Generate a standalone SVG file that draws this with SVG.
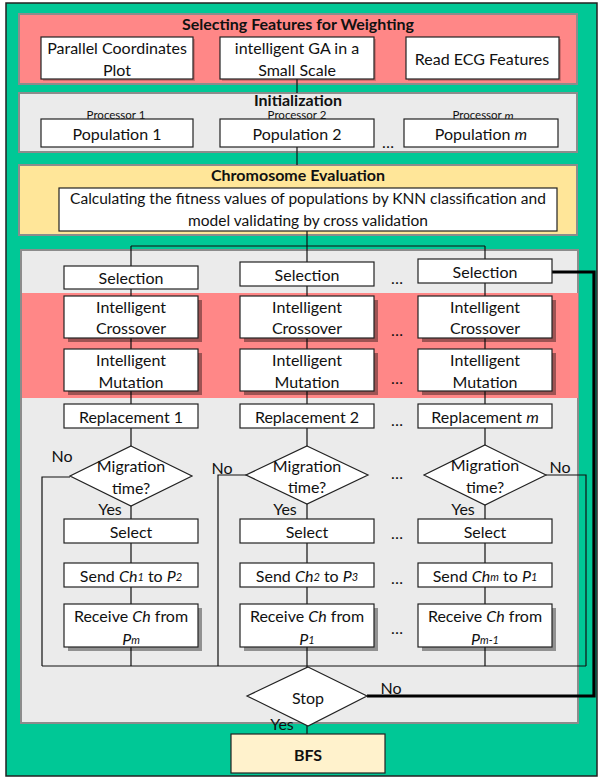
<svg xmlns="http://www.w3.org/2000/svg" width="599" height="778" viewBox="0 0 599 778">
<style>
text{font-family:Lato,"Liberation Sans",sans-serif;fill:#111;text-anchor:middle;dominant-baseline:central}
.t{font-size:16px}
.c{font-size:15.5px}
.h{font-size:16px;font-weight:bold}
.s{font-size:11.5px}
.i{font-style:italic}
.sub{font-style:italic;font-size:11px}
.box{fill:#fff;stroke:#222;stroke-width:1.2}
.sh{fill:#000;opacity:.38}
.shl{fill:#000;opacity:.18}
.dia{fill:#fff;stroke:#222;stroke-width:1.2}
.ln{fill:none;stroke:#111;stroke-width:1.2}
.thick{fill:none;stroke:#000;stroke-width:3.2}
.panel{stroke:#8c8c8c;stroke-width:2}
</style>
<rect id="background" x="6" y="3" width="591" height="773" fill="#00C896" stroke="#222" stroke-width="1.5"/>
<g id="panels">
<rect x="19" y="14" width="558" height="70" fill="#FF8787" class="panel"/>
<rect x="19" y="93" width="558" height="59" fill="#EBEBEB" class="panel"/>
<rect x="19" y="165" width="558" height="70" fill="#FFE699" class="panel"/>
<rect x="21" y="250" width="557" height="473" fill="#EBEBEB" class="panel"/>
<rect x="22" y="293" width="556" height="105" fill="#FF8787"/>
</g>
<g id="connectors">
<path class="ln" d="M297,79V93M297,147V165"/>
<path class="ln" d="M307,231V262M131,246H485M131,246V666M307,246V666M485,246V666"/>
<path class="ln" d="M70,477H42V666M247,475H218V666M546,475H586V666M42,666H586"/>
<path class="ln" d="M307,666V734"/>
<path class="thick" d="M552,272H594V696H367"/>
</g>
<g id="titles">
<text class="h" x="298" y="23">Selecting Features for Weighting</text>
<text class="h" x="298" y="99">Initialization</text>
<text class="h" x="298" y="174">Chromosome Evaluation</text>
</g>
<g id="parallel-coordinates">
<rect class="shl" x="43" y="39" width="152" height="42"/>
<rect class="box" x="41" y="37" width="152" height="42"/>
<text class="t" x="117" y="47">Parallel Coordinates</text><text class="t" x="117" y="69">Plot</text>
</g>
<g id="intelligent-ga">
<rect class="shl" x="222" y="39" width="154" height="42"/>
<rect class="box" x="220" y="37" width="154" height="42"/>
<text class="t" x="297" y="47">intelligent GA in a</text><text class="t" x="297" y="69">Small Scale</text>
</g>
<g id="read-ecg">
<rect class="shl" x="408" y="39" width="153" height="42"/>
<rect class="box" x="406" y="37" width="153" height="42"/>
<text class="t" x="482" y="58">Read ECG Features</text>
</g>
<g id="population-1">
<text class="s" x="116" y="114.5">Processor 1</text>
<rect class="box" x="41" y="119" width="152" height="28"/>
<text class="t" x="117" y="133">Population 1</text>
</g>
<g id="population-2">
<text class="s" x="297" y="114.5">Processor 2</text>
<rect class="box" x="220" y="119" width="154" height="28"/>
<text class="t" x="297" y="133">Population 2</text>
</g>
<text class="t" x="388" y="141">…</text>
<g id="population-m">
<text class="s" x="483" y="114.5">Processor <tspan class="i">m</tspan></text>
<rect class="box" x="404" y="119" width="154" height="28"/>
<text class="t" x="481" y="133">Population <tspan class="i">m</tspan></text>
</g>
<g id="fitness">
<rect class="box" x="59" y="188" width="498" height="43"/>
<text class="c" x="308" y="198">Calculating the fitness values of populations by KNN classification and</text>
<text class="c" x="308" y="220">model validating by cross validation</text>
</g>
<g id="selection-1"><rect class="box" x="64" y="266" width="134" height="23"/><text class="t" x="131" y="277.5">Selection</text></g>
<g id="selection-2"><rect class="box" x="240" y="262" width="134" height="24"/><text class="t" x="307" y="274">Selection</text></g>
<g id="selection-m"><rect class="box" x="418" y="259" width="134" height="24"/><text class="t" x="485" y="271">Selection</text></g>
<text class="t" x="397" y="277">…</text>
<g id="crossover-1"><rect class="sh" x="68" y="300" width="134" height="42"/><rect class="box" x="64" y="296" width="134" height="42"/><text class="t" x="131" y="306">Intelligent</text><text class="t" x="131" y="327">Crossover</text></g>
<g id="crossover-2"><rect class="sh" x="244" y="300" width="134" height="42"/><rect class="box" x="240" y="296" width="134" height="42"/><text class="t" x="307" y="306">Intelligent</text><text class="t" x="307" y="327">Crossover</text></g>
<g id="crossover-m"><rect class="sh" x="422" y="300" width="134" height="42"/><rect class="box" x="418" y="296" width="134" height="42"/><text class="t" x="485" y="306">Intelligent</text><text class="t" x="485" y="327">Crossover</text></g>
<text class="t" x="397" y="329">…</text>
<g id="mutation-1"><rect class="sh" x="68" y="353" width="134" height="42"/><rect class="box" x="64" y="349" width="134" height="42"/><text class="t" x="131" y="359">Intelligent</text><text class="t" x="131" y="381">Mutation</text></g>
<g id="mutation-2"><rect class="sh" x="244" y="353" width="134" height="42"/><rect class="box" x="240" y="349" width="134" height="42"/><text class="t" x="307" y="359">Intelligent</text><text class="t" x="307" y="381">Mutation</text></g>
<g id="mutation-m"><rect class="sh" x="422" y="353" width="134" height="42"/><rect class="box" x="418" y="349" width="134" height="42"/><text class="t" x="485" y="359">Intelligent</text><text class="t" x="485" y="381">Mutation</text></g>
<text class="t" x="397" y="377">…</text>
<g id="replacement-1"><rect class="box" x="64" y="404" width="134" height="24"/><text class="t" x="131" y="416">Replacement 1</text></g>
<g id="replacement-2"><rect class="box" x="240" y="404" width="134" height="24"/><text class="t" x="307" y="416">Replacement 2</text></g>
<g id="replacement-m"><rect class="box" x="418" y="404" width="134" height="24"/><text class="t" x="485" y="416">Replacement <tspan class="i">m</tspan></text></g>
<text class="t" x="397" y="419">…</text>
<g id="migration-1"><polygon class="dia" points="131,446 192,476 131,506 70,476"/><text class="t" x="131" y="465">Migration</text><text class="t" x="131" y="487">time?</text></g>
<g id="migration-2"><polygon class="dia" points="307,446 368,475 307,504 246,475"/><text class="t" x="307" y="465">Migration</text><text class="t" x="307" y="486">time?</text></g>
<g id="migration-m"><polygon class="dia" points="485,445 546,475 485,505 424,475"/><text class="t" x="485" y="464">Migration</text><text class="t" x="485" y="486">time?</text></g>
<text class="t" x="397" y="472">…</text>
<g id="labels">
<text class="t" x="62" y="455">No</text>
<text class="t" x="222" y="467">No</text>
<text class="t" x="560" y="466">No</text>
<text class="t" x="110" y="508">Yes</text>
<text class="t" x="285" y="508">Yes</text>
<text class="t" x="463" y="508">Yes</text>
<text class="t" x="391" y="687">No</text>
<text class="t" x="282" y="723">Yes</text>
</g>
<g id="select-1"><rect class="box" x="64" y="519" width="134" height="24"/><text class="t" x="131" y="531">Select</text></g>
<g id="select-2"><rect class="box" x="240" y="519" width="134" height="24"/><text class="t" x="307" y="531">Select</text></g>
<g id="select-m"><rect class="box" x="418" y="519" width="134" height="24"/><text class="t" x="485" y="531">Select</text></g>
<text class="t" x="397" y="532">…</text>
<g id="send-1"><rect class="box" x="64" y="563" width="134" height="24"/><text class="t" x="131" y="575">Send <tspan class="i">Ch</tspan><tspan class="sub" dy="1">1</tspan><tspan dy="-1"> to </tspan><tspan class="i">P</tspan><tspan class="sub" dy="1">2</tspan></text></g>
<g id="send-2"><rect class="box" x="240" y="563" width="134" height="24"/><text class="t" x="307" y="575">Send <tspan class="i">Ch</tspan><tspan class="sub" dy="1">2</tspan><tspan dy="-1"> to </tspan><tspan class="i">P</tspan><tspan class="sub" dy="1">3</tspan></text></g>
<g id="send-m"><rect class="box" x="418" y="563" width="134" height="24"/><text class="t" x="485" y="575">Send <tspan class="i">Ch</tspan><tspan class="sub" dy="1">m</tspan><tspan dy="-1"> to </tspan><tspan class="i">P</tspan><tspan class="sub" dy="1">1</tspan></text></g>
<text class="t" x="397" y="577">…</text>
<g id="receive-1"><rect class="sh" x="68" y="608" width="134" height="43"/><rect class="box" x="64" y="604" width="134" height="43"/><text class="t" x="131" y="615">Receive <tspan class="i">Ch</tspan> from</text><text class="t" x="131" y="638"><tspan class="i">P</tspan><tspan class="sub" dy="1">m</tspan></text></g>
<g id="receive-2"><rect class="sh" x="244" y="608" width="134" height="43"/><rect class="box" x="240" y="604" width="134" height="43"/><text class="t" x="307" y="615">Receive <tspan class="i">Ch</tspan> from</text><text class="t" x="307" y="638"><tspan class="i">P</tspan><tspan class="sub" dy="1">1</tspan></text></g>
<g id="receive-m"><rect class="sh" x="422" y="608" width="134" height="43"/><rect class="box" x="418" y="604" width="134" height="43"/><text class="t" x="485" y="615">Receive <tspan class="i">Ch</tspan> from</text><text class="t" x="485" y="638"><tspan class="i">P</tspan><tspan class="sub" dy="1">m-1</tspan></text></g>
<text class="t" x="397" y="627">…</text>
<g id="stop"><polygon class="dia" points="308,667 367,696 308,726 247,696"/><text class="t" x="308" y="697">Stop</text></g>
<g id="bfs"><rect x="231" y="734" width="154" height="39" fill="#FFF2CC" stroke="#222" stroke-width="1.2"/><text class="h" x="308" y="754">BFS</text></g>
</svg>
